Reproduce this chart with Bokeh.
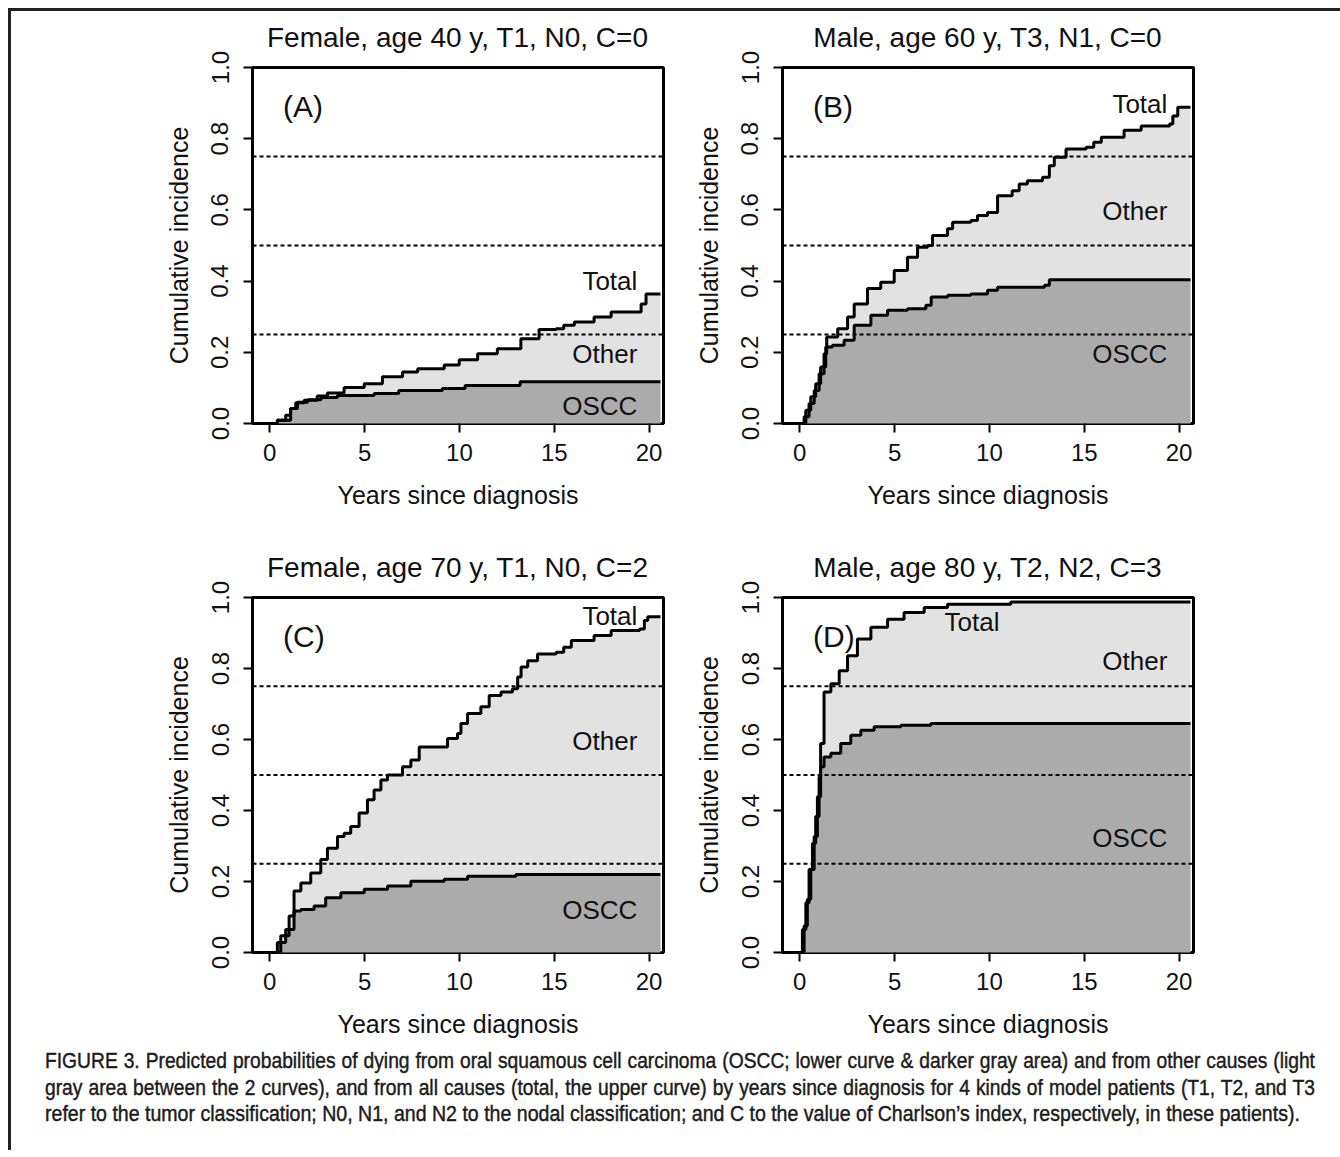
from bokeh.plotting import figure
from bokeh.models import Range1d, FixedTicker, Span, Label, Spacer, Div, PrintfTickFormatter
from bokeh.layouts import row, column
from bokeh.embed import file_html
from bokeh.resources import INLINE

# ---------------- data ----------------
titles = ["Female, age 40 y, T1, N0, C=0", "Male, age 60 y, T3, N1, C=0",
          "Female, age 70 y, T1, N0, C=2", "Male, age 80 y, T2, N2, C=3"]
letters = ["(A)", "(B)", "(C)", "(D)"]
x_ticks = [0, 5, 10, 15, 20]
y_ticks = [0.0, 0.2, 0.4, 0.6, 0.8, 1.0]
ref_lines = [0.25, 0.5, 0.75]

a_total_t = [0, 0.4, 0.84, 1.1, 1.37, 1.81, 2.5, 3.04, 3.92, 4.98, 5.94, 7.0, 7.8, 9.2, 9.99,
             10.96, 12.0, 13.24, 14.2, 15.1, 15.5, 16.06, 17.1, 18.0, 19.58, 19.84, 20.6]
a_total_p = [0, 0.009, 0.023, 0.042, 0.058, 0.065, 0.077, 0.086, 0.101, 0.112, 0.131, 0.145,
             0.154, 0.164, 0.179, 0.196, 0.21, 0.238, 0.264, 0.266, 0.276, 0.285, 0.299, 0.313,
             0.336, 0.364, 0.364]
a_oscc_t = [0, 0.4, 1.1, 1.46, 2.0, 2.7, 3.57, 5.5, 6.8, 9.1, 10.3, 13.2, 20.6]
a_oscc_p = [0, 0.009, 0.042, 0.06, 0.067, 0.073, 0.079, 0.084, 0.093, 0.098, 0.107, 0.117, 0.117]

b_total_t = [0, 0.23, 0.49, 0.76, 1.02, 1.28, 1.42, 2.0, 2.52, 2.87, 3.57, 4.27, 4.98, 5.68,
             6.21, 6.74, 7.0, 7.79, 8.06, 9.02, 9.37, 9.9, 10.43, 11.2, 11.57, 12.0, 12.8, 13.16,
             13.42, 14.04, 15.1, 15.5, 15.9, 17.1, 18.0, 19.5, 19.67, 19.93, 20.6]
b_total_p = [0, 0.019, 0.056, 0.093, 0.14, 0.196, 0.243, 0.266, 0.299, 0.336, 0.379, 0.397,
             0.43, 0.467, 0.495, 0.5, 0.528, 0.547, 0.565, 0.57, 0.584, 0.593, 0.64, 0.654, 0.673,
             0.682, 0.692, 0.724, 0.748, 0.771, 0.776, 0.79, 0.804, 0.824, 0.836, 0.841, 0.864,
             0.888, 0.888]
b_oscc_t = [0, 0.32, 0.58, 0.84, 1.1, 1.37, 1.72, 2.34, 2.87, 3.75, 4.63, 5.68, 6.65, 6.93, 7.8,
            9.02, 9.9, 10.43, 12.9, 13.16, 20.6]
b_oscc_p = [0, 0.037, 0.075, 0.112, 0.159, 0.215, 0.22, 0.234, 0.276, 0.304, 0.318, 0.322,
            0.332, 0.355, 0.36, 0.364, 0.374, 0.383, 0.388, 0.404, 0.404]

c_total_t = [0, 0.58, 1.02, 1.28, 1.64, 2.16, 2.69, 3.04, 3.57, 3.92, 4.27, 4.71, 5.15, 5.5,
             5.86, 6.21, 7.0, 7.44, 7.88, 9.37, 9.9, 10.08, 10.43, 11.13, 11.57, 12.19, 12.8,
             13.07, 13.25, 13.6, 14.12, 15.1, 15.5, 15.9, 17.1, 18.0, 19.5, 19.75, 19.93, 20.6]
c_total_p = [0, 0.047, 0.103, 0.173, 0.196, 0.224, 0.262, 0.294, 0.327, 0.336, 0.355, 0.393,
             0.43, 0.458, 0.486, 0.5, 0.523, 0.542, 0.579, 0.603, 0.617, 0.645, 0.673, 0.692,
             0.724, 0.734, 0.743, 0.776, 0.804, 0.822, 0.841, 0.846, 0.86, 0.879, 0.893, 0.907,
             0.911, 0.935, 0.946, 0.946]
c_oscc_t = [0, 0.4, 0.84, 1.28, 1.64, 2.34, 2.95, 3.75, 4.98, 6.21, 7.44, 9.2, 10.43, 12.98, 20.6]
c_oscc_p = [0, 0.028, 0.065, 0.117, 0.121, 0.131, 0.154, 0.168, 0.178, 0.187, 0.201, 0.206,
            0.215, 0.22, 0.22]

d_total_t = [0, 0.14, 0.32, 0.49, 0.67, 0.84, 1.02, 1.1, 1.28, 1.64, 2.08, 2.52, 3.04, 3.75,
             4.63, 5.5, 6.56, 7.79, 11.13, 20.6]
d_total_p = [0, 0.065, 0.14, 0.234, 0.308, 0.383, 0.495, 0.589, 0.734, 0.757, 0.794, 0.836,
             0.883, 0.916, 0.939, 0.958, 0.972, 0.981, 0.987, 0.987]
d_oscc_t = [0, 0.23, 0.4, 0.58, 0.76, 0.93, 1.1, 1.28, 1.64, 2.16, 2.69, 3.22, 3.92, 5.33, 6.91, 20.6]
d_oscc_p = [0, 0.075, 0.15, 0.234, 0.327, 0.439, 0.523, 0.551, 0.561, 0.589, 0.612, 0.626,
            0.636, 0.64, 0.645, 0.645]

# label positions (data units): (text, x, y, align)
panel_labels = [
    [("Total", 19.38, 0.40, "right"), ("Other", 19.38, 0.196, "right"), ("OSCC", 19.38, 0.049, "right")],
    [("Total", 19.38, 0.897, "right"), ("Other", 19.38, 0.596, "right"), ("OSCC", 19.38, 0.196, "right")],
    [("Total", 19.38, 0.949, "right"), ("Other", 19.38, 0.596, "right"), ("OSCC", 19.38, 0.12, "right")],
    [("Total", 9.08, 0.93, "center"), ("Other", 19.38, 0.82, "right"), ("OSCC", 19.38, 0.322, "right")],
]

caption_lines = [
    "FIGURE 3. Predicted probabilities of dying from oral squamous cell carcinoma (OSCC; lower curve &amp; darker gray area) and from other causes (light",
    "gray area between the 2 curves), and from all causes (total, the upper curve) by years since diagnosis for 4 kinds of model patients (T1, T2, and T3",
    "refer to the tumor classification; N0, N1, and N2 to the nodal classification; and C to the value of Charlson\u2019s index, respectively, in these patients).",
]

FONT = "Liberation Sans"
DARK = "#ababab"
LIGHT = "#e2e2e2"
INK = "#111111"
X0, X1 = -0.91, 20.76


def make_panel(i, total_t, total_p, oscc_t, oscc_p, head_h, top, bottom, title_pad):
    p = figure(width=530, height=top + 356 + bottom,
               min_border_left=112, min_border_right=7,
               min_border_top=top, min_border_bottom=bottom,
               x_range=Range1d(X0, X1), y_range=Range1d(0, 1),
               output_backend="svg", toolbar_location=None)
    p.background_fill_color = "white"
    p.border_fill_color = "white"
    p.border_fill_alpha = 0
    p.outline_line_color = "black"
    p.outline_line_width = 3
    p.outline_line_alpha = 1
    p.xgrid.visible = False
    p.ygrid.visible = False

    p.varea_step(x=total_t, y1=0, y2=total_p, step_mode="after", fill_color=LIGHT)
    p.varea_step(x=oscc_t, y1=0, y2=oscc_p, step_mode="after", fill_color=DARK)
    for v in ref_lines:
        p.add_layout(Span(location=v, dimension="width", line_color="black",
                          line_width=2, line_dash="4 3"))
    p.step(x=total_t, y=total_p, mode="after", line_color="black", line_width=3)
    p.step(x=oscc_t, y=oscc_p, mode="after", line_color="black", line_width=3)

    for txt, x, y, al in panel_labels[i]:
        p.add_layout(Label(x=x, y=y, text=txt, text_align=al, text_baseline="middle",
                           text_font=FONT, text_font_size="26px", text_color=INK))
    p.add_layout(Label(x=0.7, y=0.89, text=letters[i], text_align="left", text_baseline="middle",
                       text_font=FONT, text_font_size="30px", text_color=INK))

    p.xaxis.ticker = FixedTicker(ticks=x_ticks)
    p.yaxis.ticker = FixedTicker(ticks=y_ticks)
    p.yaxis.formatter = PrintfTickFormatter(format="%.1f")
    p.xaxis.axis_label = "Years since diagnosis"
    p.yaxis.axis_label = "Cumulative incidence"
    p.yaxis.major_label_orientation = "vertical"
    for ax in (p.xaxis, p.yaxis):
        ax.axis_line_color = None
        ax.minor_tick_line_color = None
        ax.major_tick_in = 0
        ax.major_tick_out = 9
        ax.major_tick_line_width = 2
        ax.major_tick_line_color = "black"
        ax.major_label_text_font = FONT
        ax.major_label_text_font_size = "24px"
        ax.major_label_text_color = INK
        ax.axis_label_text_font = FONT
        ax.axis_label_text_font_size = "25px"
        ax.axis_label_text_font_style = "normal"
        ax.axis_label_text_color = INK
    p.xaxis.major_label_standoff = 11
    p.yaxis.major_label_standoff = 15
    p.xaxis.axis_label_standoff = 17
    p.yaxis.axis_label_standoff = 16

    title_html = ('<div style="margin-left:112px;width:411px;text-align:center;white-space:nowrap;'
                  'font-family:\'Liberation Sans\',Arial,sans-serif;font-size:28px;line-height:32px;'
                  'padding-top:%dpx;color:#111;overflow:visible;">%s</div>' % (title_pad, titles[i]))
    head = Div(text=title_html, width=530, height=head_h, margin=(0, 0, 0, 0),
               styles={"overflow": "visible"})
    return column(head, p, spacing=0, styles={"overflow": "visible"})


pa = make_panel(0, a_total_t, a_total_p, a_oscc_t, a_oscc_p, 36, 20, 117, 11)
pb = make_panel(1, b_total_t, b_total_p, b_oscc_t, b_oscc_p, 36, 20, 117, 11)
pc = make_panel(2, c_total_t, c_total_p, c_oscc_t, c_oscc_p, 36, 21, 87, 12)
pd = make_panel(3, d_total_t, d_total_p, d_oscc_t, d_oscc_p, 36, 21, 87, 12)

html = ('<div style="padding-top:3px;font-family:\'Liberation Sans\',Arial,sans-serif;font-size:22px;'
        'line-height:26.5px;color:#1c1c1c;-webkit-text-stroke:0.45px #1c1c1c;">')
scales = [0.875, 0.875, 0.889]
for k, ln in enumerate(caption_lines):
    w = 1270 / scales[k] if k < 2 else 1460
    just = "text-align:justify;text-align-last:justify;" if k < 2 else "text-align:left;"
    html += ('<div style="width:%.1fpx;transform:scaleX(%.3f);transform-origin:0 0;%s">%s</div>'
             % (w, scales[k], just, ln))
html += '</div>'
caption = Div(text=html, width=1290, height=100)

bordered = column(
    row(Spacer(width=129, height=10), pa, pb),
    row(Spacer(width=129, height=10), pc, pd),
    row(Spacer(width=29, height=10), caption),
    styles={"border-left": "3px solid #222", "border-top": "3px solid #222"},
    width=1332,
)

layout = column(Spacer(width=10, height=8), row(Spacer(width=8, height=10), bordered))

open("out.html", "w").write(file_html(layout, INLINE))
